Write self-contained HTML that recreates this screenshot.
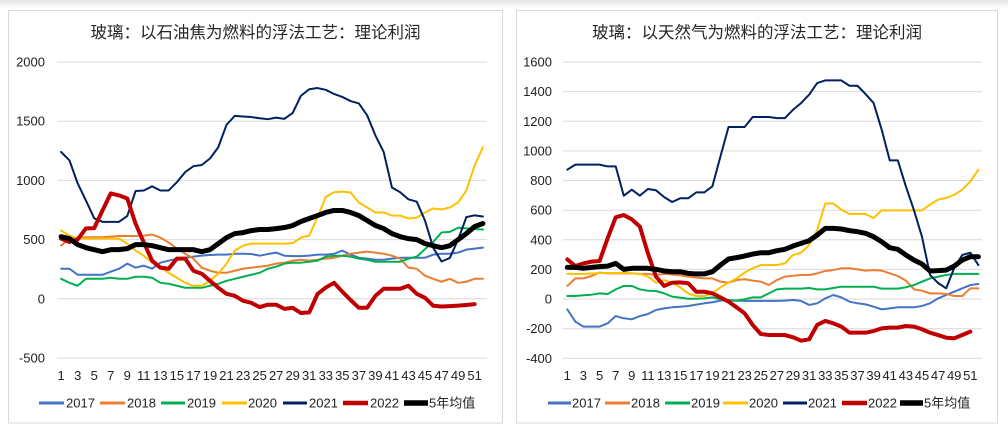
<!DOCTYPE html>
<html><head><meta charset="utf-8"><style>
html,body{margin:0;padding:0;background:#fff;}
svg{display:block;}
text{font-family:"Liberation Sans","Noto Sans CJK SC",sans-serif;fill:#222;}
.t{font-size:16.5px;fill:#262626;}
.a{font-size:13px;}
.l{fill:none;stroke-linejoin:round;stroke-linecap:round;}
</style></head><body>
<svg width="1008" height="434" viewBox="0 0 1008 434" xmlns="http://www.w3.org/2000/svg">
<defs><linearGradient id="tg" x1="0" y1="0" x2="0" y2="1"><stop offset="0" stop-color="#e4e4e4"/><stop offset="1" stop-color="#ffffff"/></linearGradient></defs>
<rect x="0" y="0" width="1008" height="434" fill="#fff"/>
<rect x="0" y="0" width="1008" height="8" fill="url(#tg)"/>
<rect x="8.5" y="10.5" width="494" height="412.5" fill="#fff" stroke="#d9d9d9"/>
<rect x="516.5" y="10.5" width="481" height="412.5" fill="#fff" stroke="#d9d9d9"/>

<!-- LEFT CHART -->
<text class="t" x="255.5" y="38" text-anchor="middle">玻璃：以石油焦为燃料的浮法工艺：理论利润</text>
<g stroke="#d9d9d9" stroke-width="1">
<line x1="57" x2="487" y1="62" y2="62"/><line x1="57" x2="487" y1="121.2" y2="121.2"/><line x1="57" x2="487" y1="180.4" y2="180.4"/><line x1="57" x2="487" y1="239.6" y2="239.6"/><line x1="57" x2="487" y1="298.8" y2="298.8"/><line x1="57" x2="487" y1="358" y2="358"/>
</g>
<g class="a" text-anchor="end">
<text class="a" x="45" y="66.5">2000</text><text class="a" x="45" y="125.7">1500</text><text class="a" x="45" y="184.9">1000</text><text class="a" x="45" y="244.1">500</text><text class="a" x="45" y="303.3">0</text><text class="a" x="45" y="362.5">-500</text>
</g>
<g text-anchor="middle">
<text class="a" x="61.1" y="380">1</text><text class="a" x="77.7" y="380">3</text><text class="a" x="94.2" y="380">5</text><text class="a" x="110.8" y="380">7</text><text class="a" x="127.3" y="380">9</text><text class="a" x="143.8" y="380">11</text><text class="a" x="160.4" y="380">13</text><text class="a" x="176.9" y="380">15</text><text class="a" x="193.5" y="380">17</text><text class="a" x="210" y="380">19</text><text class="a" x="226.5" y="380">21</text><text class="a" x="243.1" y="380">23</text><text class="a" x="259.6" y="380">25</text><text class="a" x="276.2" y="380">27</text><text class="a" x="292.7" y="380">29</text><text class="a" x="309.2" y="380">31</text><text class="a" x="325.8" y="380">33</text><text class="a" x="342.3" y="380">35</text><text class="a" x="358.9" y="380">37</text><text class="a" x="375.4" y="380">39</text><text class="a" x="391.9" y="380">41</text><text class="a" x="408.5" y="380">43</text><text class="a" x="425" y="380">45</text><text class="a" x="441.6" y="380">47</text><text class="a" x="458.1" y="380">49</text><text class="a" x="474.6" y="380">51</text>
</g>
<g transform="matrix(8.27 0 0 -0.1184 52.865 298.8)">
<polyline class="l" vector-effect="non-scaling-stroke" stroke="#4472c4" stroke-width="2" points="1,254 2,254 3,203 4,203 5,203 6,203 7,229 8,254 9,297 10,263 11,280 12,254 13,305 14,322 15,339 16,347 17,356 18,365 19,370 20,373 21,373 22,381 23,381 24,378 25,364 26,378 27,390 28,364 29,360 30,360 31,365 32,373 33,373 34,380 35,407 36,373 37,347 38,339 39,330 40,330 41,339 42,347 43,347 44,347 45,347 46,373 47,381 48,381 49,390 50,415 51,424 52,432"/>
<polyline class="l" vector-effect="non-scaling-stroke" stroke="#ed7d31" stroke-width="2" points="1,450 2,508 3,517 4,520 5,520 6,520 7,525 8,530 9,530 10,530 11,534 12,542 13,517 14,475 15,424 16,381 17,339 18,263 19,237 20,220 21,220 22,237 23,254 24,263 25,271 26,280 27,297 28,305 29,322 30,330 31,322 32,330 33,339 34,347 35,364 36,381 37,390 38,398 39,390 40,381 41,364 42,339 43,263 44,254 45,195 46,169 47,144 48,169 49,135 50,144 51,169 52,169"/>
<polyline class="l" vector-effect="non-scaling-stroke" stroke="#00b050" stroke-width="2" points="1,169 2,135 3,110 4,169 5,169 6,169 7,178 8,169 9,169 10,186 11,186 12,178 13,135 14,127 15,110 16,93 17,93 18,93 19,110 20,127 21,152 22,169 23,186 24,203 25,220 26,254 27,271 28,297 29,305 30,305 31,313 32,322 33,356 34,364 35,364 36,356 37,339 38,330 39,313 40,313 41,313 42,313 43,339 44,356 45,420 46,480 47,560 48,565 49,600 50,595 51,590 52,585"/>
<polyline class="l" vector-effect="non-scaling-stroke" stroke="#ffc000" stroke-width="2" points="1,576 2,534 3,508 4,508 5,508 6,508 7,508 8,508 9,466 10,407 11,364 12,305 13,263 14,220 15,178 16,135 17,110 18,110 19,152 20,212 21,297 22,407 23,449 24,466 25,466 26,466 27,466 28,466 29,470 30,517 31,534 32,690 33,860 34,900 35,905 36,898 37,813 38,771 39,729 40,729 41,703 42,703 43,678 44,686 45,729 46,763 47,755 48,771 49,813 50,915 51,1127 52,1280"/>
<polyline class="l" vector-effect="non-scaling-stroke" stroke="#002060" stroke-width="2" points="1,1240 2,1170 3,975 4,830 5,680 6,650 7,650 8,650 9,700 10,910 11,915 12,950 13,915 14,915 15,985 16,1070 17,1120 18,1130 19,1185 20,1280 21,1470 22,1545 23,1540 24,1535 25,1525 26,1517 27,1530 28,1520 29,1570 30,1715 31,1770 32,1780 33,1765 34,1730 35,1705 36,1670 37,1650 38,1550 39,1380 40,1240 41,940 42,900 43,840 44,820 45,660 46,430 47,315 48,345 49,500 50,690 51,705 52,695"/>
<polyline class="l" vector-effect="non-scaling-stroke" stroke="#c00000" stroke-width="4" points="1,508 2,480 3,500 4,595 5,597 6,746 7,890 8,873 9,847 10,635 11,475 12,322 13,263 14,254 15,339 16,339 17,237 18,212 19,152 20,93 21,42 22,25 23,-17 24,-34 25,-70 26,-50 27,-50 28,-85 29,-76 30,-120 31,-115 32,40 33,95 34,135 35,60 36,-10 37,-76 38,-76 39,25 40,85 41,85 42,85 43,110 44,42 45,8 46,-59 47,-65 48,-62 49,-58 50,-52 51,-45"/>
<polyline class="l" vector-effect="non-scaling-stroke" stroke="#000" stroke-width="5" points="1,525 2,508 3,458 4,432 5,415 6,398 7,415 8,415 9,424 10,458 11,458 12,449 13,432 14,415 15,415 16,415 17,415 18,398 19,415 20,466 21,517 22,551 23,559 24,576 25,585 26,585 27,593 28,602 29,619 30,653 31,678 32,703 33,729 34,746 35,746 36,729 37,703 38,661 39,619 40,593 41,551 42,525 43,508 44,500 45,466 46,449 47,432 48,449 49,500 50,551 51,610 52,636"/>
</g>
<g>
<line x1="39" x2="64" y1="403" y2="403" stroke="#4472c4" stroke-width="3"/><text class="a" x="66" y="407.5">2017</text>
<line x1="100" x2="125" y1="403" y2="403" stroke="#ed7d31" stroke-width="3"/><text class="a" x="127" y="407.5">2018</text>
<line x1="161" x2="185" y1="403" y2="403" stroke="#00b050" stroke-width="3"/><text class="a" x="187" y="407.5">2019</text>
<line x1="222" x2="247" y1="403" y2="403" stroke="#ffc000" stroke-width="3"/><text class="a" x="248" y="407.5">2020</text>
<line x1="283" x2="307" y1="403" y2="403" stroke="#002060" stroke-width="3"/><text class="a" x="309" y="407.5">2021</text>
<line x1="343" x2="368" y1="403" y2="403" stroke="#c00000" stroke-width="4.5"/><text class="a" x="370" y="407.5">2022</text>
<line x1="404" x2="428" y1="403" y2="403" stroke="#000" stroke-width="5.5"/><text class="a" x="429" y="407.5">5年均值</text>
</g>

<!-- RIGHT CHART -->
<text class="t" x="757" y="38" text-anchor="middle">玻璃：以天然气为燃料的浮法工艺：理论利润</text>
<g stroke="#d9d9d9" stroke-width="1">
<line x1="563" x2="982" y1="62" y2="62"/><line x1="563" x2="982" y1="91.6" y2="91.6"/><line x1="563" x2="982" y1="121.3" y2="121.3"/><line x1="563" x2="982" y1="150.9" y2="150.9"/><line x1="563" x2="982" y1="180.5" y2="180.5"/><line x1="563" x2="982" y1="210.2" y2="210.2"/><line x1="563" x2="982" y1="239.8" y2="239.8"/><line x1="563" x2="982" y1="269.4" y2="269.4"/><line x1="563" x2="982" y1="299" y2="299"/><line x1="563" x2="982" y1="328.7" y2="328.7"/><line x1="563" x2="982" y1="358.3" y2="358.3"/>
</g>
<g text-anchor="end">
<text class="a" x="552" y="66.5">1600</text><text class="a" x="552" y="96.1">1400</text><text class="a" x="552" y="125.8">1200</text><text class="a" x="552" y="155.4">1000</text><text class="a" x="552" y="185">800</text><text class="a" x="552" y="214.7">600</text><text class="a" x="552" y="244.3">400</text><text class="a" x="552" y="273.9">200</text><text class="a" x="552" y="303.5">0</text><text class="a" x="552" y="333.2">-200</text><text class="a" x="552" y="362.8">-400</text>
</g>
<g text-anchor="middle">
<text class="a" x="567.3" y="380">1</text><text class="a" x="583.4" y="380">3</text><text class="a" x="599.6" y="380">5</text><text class="a" x="615.7" y="380">7</text><text class="a" x="631.8" y="380">9</text><text class="a" x="647.9" y="380">11</text><text class="a" x="664.1" y="380">13</text><text class="a" x="680.2" y="380">15</text><text class="a" x="696.3" y="380">17</text><text class="a" x="712.4" y="380">19</text><text class="a" x="728.5" y="380">21</text><text class="a" x="744.7" y="380">23</text><text class="a" x="760.8" y="380">25</text><text class="a" x="776.9" y="380">27</text><text class="a" x="793" y="380">29</text><text class="a" x="809.1" y="380">31</text><text class="a" x="825.3" y="380">33</text><text class="a" x="841.4" y="380">35</text><text class="a" x="857.5" y="380">37</text><text class="a" x="873.6" y="380">39</text><text class="a" x="889.7" y="380">41</text><text class="a" x="905.9" y="380">43</text><text class="a" x="922" y="380">45</text><text class="a" x="938.1" y="380">47</text><text class="a" x="954.2" y="380">49</text><text class="a" x="970.3" y="380">51</text>
</g>
<g transform="matrix(8.06 0 0 -0.1483 559.27 299)">
<polyline class="l" vector-effect="non-scaling-stroke" stroke="#4472c4" stroke-width="2" points="1,-70 2,-153 3,-186 4,-186 5,-186 6,-164 7,-115 8,-130 9,-137 10,-115 11,-101 12,-74 13,-63 14,-56 15,-52 16,-47 17,-38 18,-29 19,-22 20,-11 21,-7 22,-11 23,-13 24,-13 25,-13 26,-13 27,-13 28,-11 29,-7 30,-13 31,-40 32,-29 33,4 34,27 35,11 36,-18 37,-29 38,-36 39,-52 40,-70 41,-63 42,-56 43,-56 44,-56 45,-47 46,-29 47,4 48,27 49,49 50,72 51,94 52,101"/>
<polyline class="l" vector-effect="non-scaling-stroke" stroke="#ed7d31" stroke-width="2" points="1,88 2,139 3,139 4,155 5,178 6,173 7,173 8,173 9,173 10,169 11,169 12,162 13,169 14,165 15,160 16,151 17,145 18,139 19,139 20,117 21,110 22,128 23,133 24,124 25,117 26,94 27,128 28,151 29,157 30,162 31,162 32,173 33,189 34,195 35,207 36,207 37,200 38,191 39,195 40,191 41,173 42,155 43,124 44,65 45,56 46,38 47,38 48,34 49,20 50,20 51,72 52,72"/>
<polyline class="l" vector-effect="non-scaling-stroke" stroke="#00b050" stroke-width="2" points="1,20 2,20 3,25 4,29 5,38 6,34 7,65 8,88 9,88 10,65 11,56 12,54 13,38 14,16 15,9 16,2 17,2 18,4 19,11 20,-2 21,-11 22,-11 23,-2 24,11 25,11 26,38 27,65 28,70 29,70 30,70 31,74 32,65 33,65 34,74 35,83 36,83 37,83 38,83 39,83 40,70 41,70 42,70 43,79 44,94 45,117 46,139 47,151 48,162 49,169 50,169 51,169 52,169"/>
<polyline class="l" vector-effect="non-scaling-stroke" stroke="#ffc000" stroke-width="2" points="1,169 2,169 3,169 4,172 5,175 6,175 7,175 8,175 9,173 10,169 11,151 12,110 13,128 14,110 15,79 16,38 17,20 18,20 19,38 20,79 21,110 22,139 23,178 24,207 25,229 26,229 27,229 28,240 29,297 30,312 31,364 32,465 33,644 34,644 35,602 36,573 37,573 38,573 39,546 40,598 41,598 42,598 43,598 44,598 45,598 46,636 47,670 48,681 49,703 50,737 51,793 52,872"/>
<polyline class="l" vector-effect="non-scaling-stroke" stroke="#002060" stroke-width="2" points="1,872 2,906 3,906 4,906 5,906 6,894 7,894 8,697 9,737 10,697 11,742 12,733 13,688 14,654 15,679 16,679 17,719 18,719 19,760 20,962 21,1160 22,1160 23,1160 24,1227 25,1227 26,1227 27,1220 28,1220 29,1276 30,1321 31,1378 32,1456 33,1474 34,1474 35,1474 36,1438 37,1438 38,1382 39,1321 40,1142 41,935 42,935 43,760 44,600 45,420 46,162 47,108 48,72 49,209 50,297 51,312 52,229"/>
<polyline class="l" vector-effect="non-scaling-stroke" stroke="#c00000" stroke-width="4" points="1,267 2,222 3,240 4,252 5,256 6,409 7,551 8,566 9,537 10,488 11,308 12,151 13,88 14,110 15,112 16,106 17,49 18,49 19,38 20,11 21,-18 22,-56 23,-97 24,-175 25,-236 26,-243 27,-243 28,-243 29,-258 30,-281 31,-272 32,-175 33,-148 34,-164 35,-186 36,-227 37,-227 38,-227 39,-216 40,-198 41,-193 42,-193 43,-182 44,-186 45,-204 46,-227 47,-243 48,-261 49,-265 50,-243 51,-220"/>
<polyline class="l" vector-effect="non-scaling-stroke" stroke="#000" stroke-width="5" points="1,213 2,213 3,207 4,213 5,218 6,222 7,240 8,200 9,207 10,207 11,207 12,200 13,189 14,184 15,184 16,173 17,169 18,169 19,184 20,229 21,270 22,279 23,290 24,303 25,312 26,312 27,326 28,335 29,357 30,375 31,393 32,431 33,476 34,476 35,472 36,461 37,454 38,443 39,420 40,386 41,346 42,335 43,297 44,263 45,236 46,189 47,191 48,195 49,222 50,263 51,285 52,285"/>
</g>
<g>
<line x1="548" x2="571" y1="403" y2="403" stroke="#4472c4" stroke-width="3"/><text class="a" x="572" y="407.5">2017</text>
<line x1="605" x2="630" y1="403" y2="403" stroke="#ed7d31" stroke-width="3"/><text class="a" x="631" y="407.5">2018</text>
<line x1="665" x2="690" y1="403" y2="403" stroke="#00b050" stroke-width="3"/><text class="a" x="691" y="407.5">2019</text>
<line x1="723" x2="748" y1="403" y2="403" stroke="#ffc000" stroke-width="3"/><text class="a" x="749" y="407.5">2020</text>
<line x1="783" x2="807" y1="403" y2="403" stroke="#002060" stroke-width="3"/><text class="a" x="808" y="407.5">2021</text>
<line x1="842" x2="867" y1="403" y2="403" stroke="#c00000" stroke-width="4.5"/><text class="a" x="868" y="407.5">2022</text>
<line x1="900" x2="923" y1="403" y2="403" stroke="#000" stroke-width="5.5"/><text class="a" x="924" y="407.5">5年均值</text>
</g>
</svg>
</body></html>
